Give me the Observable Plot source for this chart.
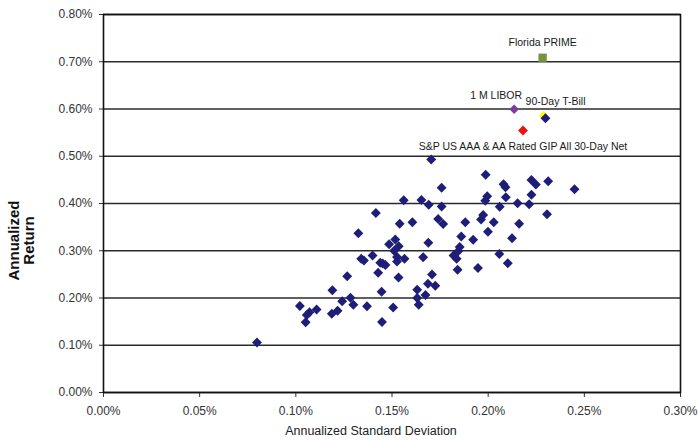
<!DOCTYPE html>
<html><head><meta charset="utf-8">
<script src="https://cdn.jsdelivr.net/npm/d3@7"></script>
<script src="https://cdn.jsdelivr.net/npm/@observablehq/plot@0.6"></script>
<style>
html,body{margin:0;padding:0;background:#fff;}
#chart svg{display:block;}
</style></head><body><div id="chart"></div>
<script>
// Tick values (percent units)
const xTicks = [0, 0.05, 0.10, 0.15, 0.20, 0.25, 0.30];
const yTicks = [0, 0.1, 0.2, 0.3, 0.4, 0.5, 0.6, 0.7, 0.8];

// Peer funds: annualized standard deviation (%) and annualized return (%)
const fundSd = [
  0.0798, 0.1021, 0.1051, 0.1057, 0.1071, 0.1108, 0.1187, 0.1217, 0.1190, 0.1241,
  0.1284, 0.1299, 0.1267, 0.1370, 0.1325, 0.1340, 0.1354, 0.1399, 0.1416, 0.1428,
  0.1439, 0.1452, 0.1466, 0.1446, 0.1448, 0.1485, 0.1517, 0.1535, 0.1511, 0.1526,
  0.1526, 0.1565, 0.1534, 0.1506, 0.1561, 0.1540, 0.1606, 0.1631, 0.1631, 0.1639,
  0.1674, 0.1687, 0.1725, 0.1708, 0.1662, 0.1689, 0.1653, 0.1691, 0.1704, 0.1758,
  0.1758, 0.1740, 0.1766, 0.1820, 0.1836, 0.1844, 0.1841, 0.1852, 0.1860, 0.1881,
  0.1922, 0.1947, 0.1963, 0.1974, 0.1987, 0.1995, 0.1985, 0.1999, 0.2029, 0.2060,
  0.2058, 0.2080, 0.2090, 0.2092, 0.2102, 0.2124, 0.2153, 0.2161, 0.2213, 0.2225,
  0.2248, 0.2225, 0.2306, 0.2312, 0.2449, 0.2298
];
const fundReturn = [
  0.1058, 0.1831, 0.1488, 0.1640, 0.1697, 0.1757, 0.1666, 0.1731, 0.2165, 0.1930,
  0.2006, 0.1858, 0.2461, 0.1826, 0.3371, 0.2830, 0.2794, 0.2899, 0.3799, 0.2535,
  0.2745, 0.2730, 0.2698, 0.2131, 0.1492, 0.3137, 0.3238, 0.3094, 0.2999, 0.2868,
  0.2772, 0.2830, 0.2434, 0.1799, 0.4070, 0.3570, 0.3604, 0.2174, 0.2000, 0.1856,
  0.2063, 0.2301, 0.2260, 0.2497, 0.2864, 0.3170, 0.4074, 0.3975, 0.4931, 0.4334,
  0.3937, 0.3672, 0.3566, 0.2899, 0.2830, 0.2990, 0.2597, 0.3079, 0.3302, 0.3602,
  0.3234, 0.2635, 0.3661, 0.3757, 0.4607, 0.4154, 0.4059, 0.3403, 0.3602, 0.3930,
  0.2931, 0.4409, 0.4345, 0.4133, 0.2734, 0.3266, 0.4004, 0.3570, 0.3985, 0.4497,
  0.4402, 0.4184, 0.3771, 0.4472, 0.4303, 0.5805
];

// Benchmarks
const benchNames = ["90-Day T-Bill", "1 M LIBOR", "S&P US AAA & AA Rated GIP All 30-Day Net", "Florida PRIME"];
const benchSd = [0.2288, 0.2135, 0.2181, 0.2283];
const benchReturn = [0.5856, 0.5996, 0.5545, 0.7084];

const funds = fundSd.map((sd, i) => ({sd, ret: fundReturn[i]}));
const bench = benchNames.map((name, i) => ({name, sd: benchSd[i], ret: benchReturn[i]}));

const diamond = {
  draw(ctx, size) {
    const r = Math.sqrt(size / 2);
    ctx.moveTo(0, -r); ctx.lineTo(r, 0); ctx.lineTo(0, r); ctx.lineTo(-r, 0); ctx.closePath();
  }
};
const pct = d => d.toFixed(2) + "%";
const labelFont = {fontSize: 10.5, fill: "#1a1a1a", lineAnchor: "middle", textAnchor: "middle"};

const plot = Plot.plot({
  width: 698, height: 440,
  marginLeft: 103, marginRight: 18, marginTop: 14, marginBottom: 48,
  style: {fontFamily: "'Liberation Sans', Arial, sans-serif", fontSize: "12px", color: "#333", background: "#fff"},
  x: {domain: [0, 0.3], ticks: xTicks, tickFormat: pct, tickSize: 5, tickPadding: 9, label: null},
  y: {domain: [0, 0.8], ticks: yTicks, tickFormat: pct, tickSize: 4, tickPadding: 7, label: null},
  marks: [
    Plot.ruleY(yTicks, {stroke: "#2a2a2a", strokeWidth: 1.6}),
    Plot.frame({stroke: "#111", strokeWidth: 1.6}),
    Plot.dot([bench[0]], {x: "sd", y: "ret", symbol: diamond, r: 3.8, fill: "#ffff00", stroke: "none"}),
    Plot.dot(funds, {x: "sd", y: "ret", symbol: diamond, r: 3.95, fill: "#1e1e78", stroke: "none"}),
    Plot.dot([bench[1]], {x: "sd", y: "ret", symbol: diamond, r: 3.8, fill: "#7b3d9e", stroke: "none"}),
    Plot.dot([bench[2]], {x: "sd", y: "ret", symbol: diamond, r: 3.95, fill: "#ee1111", stroke: "none"}),
    Plot.dot([bench[3]], {x: "sd", y: "ret", symbol: "square", r: 4.7, fill: "#76923c", stroke: "none"}),
    Plot.text([bench[0]], {x: "sd", y: "ret", text: "name", dx: 12, dy: -14, ...labelFont}),
    Plot.text([bench[1]], {x: "sd", y: "ret", text: "name", dx: -18, dy: -14, ...labelFont}),
    Plot.text([bench[2]], {x: "sd", y: "ret", text: "name", dx: 0, dy: 16, ...labelFont}),
    Plot.text([bench[3]], {x: "sd", y: "ret", text: "name", dx: 0, dy: -15, ...labelFont}),
    Plot.text(["Annualized\nReturn"], {frameAnchor: "left", rotate: -90, dx: -82, dy: 37, fontSize: 15, fontWeight: "bold", lineHeight: 1, textAnchor: "middle", lineAnchor: "middle", fill: "#111"}),
    Plot.text(["Annualized Standard Deviation"], {frameAnchor: "bottom", dx: -21, dy: 38, fontSize: 12.5, textAnchor: "middle", lineAnchor: "middle", fill: "#222"})
  ]
});
document.getElementById("chart").appendChild(plot);
</script>
</body></html>
